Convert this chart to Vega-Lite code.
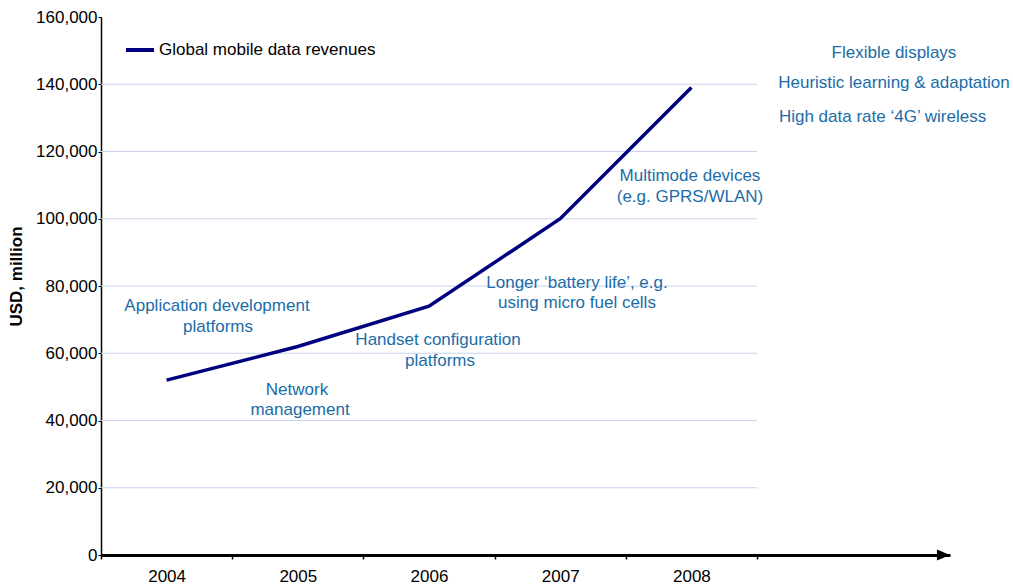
{
  "$schema": "https://vega.github.io/schema/vega-lite/v6.json",
  "width": 849,
  "height": 538,
  "autosize": {"type": "none"},
  "padding": {"left": 101, "top": 17, "right": 63, "bottom": 31},
  "background": "white",
  "config": {"font": "Liberation Sans", "view": {"stroke": null}},
  "datasets": {
    "revenue": [
      {"year": 2004, "revenue": 52000, "series": "Global mobile data revenues"},
      {"year": 2005, "revenue": 62000, "series": "Global mobile data revenues"},
      {"year": 2006, "revenue": 74000, "series": "Global mobile data revenues"},
      {"year": 2007, "revenue": 100000, "series": "Global mobile data revenues"},
      {"year": 2008, "revenue": 139000, "series": "Global mobile data revenues"}
    ],
    "grid": [
      {"v": 20000}, {"v": 40000}, {"v": 60000}, {"v": 80000},
      {"v": 100000}, {"v": 120000}, {"v": 140000}
    ],
    "notes": [
      {"label": "Application development", "x": 2004.384, "y": 74070},
      {"label": "platforms", "x": 2004.392, "y": 67823},
      {"label": "Network", "x": 2004.994, "y": 49083},
      {"label": "management", "x": 2005.017, "y": 43133},
      {"label": "Handset configuration", "x": 2006.069, "y": 63956},
      {"label": "platforms", "x": 2006.084, "y": 57709},
      {"label": "Longer ‘battery life’, e.g.", "x": 2007.128, "y": 80912},
      {"label": "using micro fuel cells", "x": 2007.128, "y": 74962},
      {"label": "Multimode devices", "x": 2007.989, "y": 112741},
      {"label": "(e.g. GPRS/WLAN)", "x": 2007.989, "y": 106494},
      {"label": "Flexible displays", "x": 2009.544, "y": 149330},
      {"label": "Heuristic learning & adaptation", "x": 2009.544, "y": 140406},
      {"label": "High data rate ‘4G’ wireless", "x": 2009.457, "y": 130292}
    ]
  },
  "layer": [
    {
      "data": {"name": "grid"},
      "mark": {"type": "rule", "color": "#cad3ee", "strokeWidth": 1.2},
      "encoding": {
        "x": {"datum": 2003.5, "type": "quantitative", "scale": {"domain": [2003.5, 2009.971], "nice": false, "zero": false}},
        "x2": {"datum": 2008.5},
        "y": {"field": "v", "type": "quantitative", "scale": {"domain": [0, 160000], "nice": false}}
      }
    },
    {
      "data": {"name": "revenue"},
      "mark": {"type": "line", "strokeWidth": 3.5},
      "encoding": {
        "x": {
          "field": "year", "type": "quantitative",
          "scale": {"domain": [2003.5, 2009.971], "nice": false, "zero": false},
          "axis": {
            "title": null,
            "values": [2003.5, 2004.5, 2005.5, 2006.5, 2007.5, 2008.5],
            "labelExpr": "datum.value < 2008 ? format(datum.value + 0.5, 'd') : ''",
            "labelOffset": 65.6,
            "labelFlush": false,
            "labelOverlap": false,
            "labelBound": false,
            "labelFontSize": 17,
            "labelColor": "black",
            "labelPadding": 9,
            "tickSize": 4,
            "tickColor": "black",
            "tickWidth": 1.5,
            "domainColor": "black",
            "domainWidth": 3,
            "grid": false
          }
        },
        "y": {
          "field": "revenue", "type": "quantitative",
          "scale": {"domain": [0, 160000], "nice": false},
          "axis": {
            "title": "USD, million",
            "titleFontSize": 17,
            "titleFontWeight": "bold",
            "titleColor": "black",
            "titleX": -85,
            "titleY": 259,
            "titleAngle": -90,
            "titleAlign": "center",
            "titleBaseline": "middle",
            "values": [0, 20000, 40000, 60000, 80000, 100000, 120000, 140000, 160000],
            "labelExpr": "format(datum.value, ',d')",
            "labelFontSize": 17,
            "labelColor": "black",
            "labelPadding": 1,
            "tickSize": 3,
            "tickColor": "black",
            "domainColor": "black",
            "domainWidth": 1.5,
            "grid": false
          }
        },
        "color": {
          "field": "series", "type": "nominal",
          "scale": {"domain": ["Global mobile data revenues"], "range": ["#000080"]},
          "legend": {
            "orient": "none",
            "legendX": 23,
            "legendY": 17,
            "title": null,
            "symbolType": "stroke",
            "symbolSize": 784,
            "symbolStrokeWidth": 4,
            "labelFontSize": 17,
            "labelColor": "black",
            "labelOffset": 3,
            "labelLimit": 400,
            "padding": 0
          }
        }
      }
    },
    {
      "data": {"name": "notes"},
      "mark": {"type": "text", "fontSize": 17, "color": "#1b6ca8", "align": "center", "baseline": "middle"},
      "encoding": {
        "x": {"field": "x", "type": "quantitative", "scale": {"domain": [2003.5, 2009.971], "nice": false, "zero": false}},
        "y": {"field": "y", "type": "quantitative", "scale": {"domain": [0, 160000], "nice": false}},
        "text": {"field": "label", "type": "nominal"}
      }
    },
    {
      "data": {"values": [{}]},
      "mark": {"type": "point", "shape": "M -1 -0.85 L 1 0 L -1 0.85 Z", "filled": true, "color": "black", "size": 169, "opacity": 1},
      "encoding": {
        "x": {"datum": 2009.921, "type": "quantitative", "scale": {"domain": [2003.5, 2009.971], "nice": false, "zero": false}},
        "y": {"datum": 0, "type": "quantitative", "scale": {"domain": [0, 160000], "nice": false}}
      }
    }
  ]
}
